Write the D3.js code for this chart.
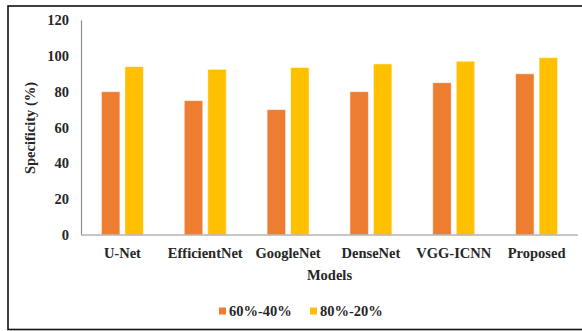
<!DOCTYPE html>
<html>
<head>
<meta charset="utf-8">
<script src="https://cdn.jsdelivr.net/npm/d3@7"></script>
<style>
  html, body { margin: 0; padding: 0; background: #fff; }
  svg { display: block; }
  text { font-family: "Liberation Serif", "Times New Roman", serif; font-weight: bold; fill: #262626; }
</style>
</head>
<body>
<svg id="chart" width="582" height="331"></svg>
<script>
// Specificity (%) per model for two train/test splits
const models = ["U-Net", "EfficientNet", "GoogleNet", "DenseNet", "VGG-ICNN", "Proposed"];
const seriesNames = ["60%-40%", "80%-20%"];
const split6040 = [80, 75, 70, 80, 85, 90];
const split8020 = [94, 92.5, 93.5, 95.5, 97, 99];
const yTicks = [0, 20, 40, 60, 80, 100, 120];
const colors = ["#ED7D31", "#FFC000"];

const seriesValues = [split6040, split8020];

const svg = d3.select("#chart");

// outer frame
svg.append("rect")
  .attr("x", 8).attr("y", 6)
  .attr("width", 590).attr("height", 323.5)
  .attr("fill", "none").attr("stroke", "#111").attr("stroke-width", 1.6);

const plot = { left: 81, right: 578, top: 20, bottom: 235 };

const x = d3.scaleBand()
  .domain(models)
  .range([plot.left, plot.right])
  .paddingInner(0.493)
  .paddingOuter(0.2465);

const xInner = d3.scaleBand()
  .domain(seriesNames)
  .range([0, x.bandwidth()])
  .paddingInner(0.212);

const y = d3.scaleLinear()
  .domain([0, 120])
  .range([plot.bottom, plot.top]);

// bars
const groups = svg.append("g").selectAll("g")
  .data(models)
  .join("g")
  .attr("transform", d => `translate(${x(d)},0)`);

groups.selectAll("rect")
  .data((m, i) => seriesNames.map((s, k) => ({ s, k, v: seriesValues[k][i] })))
  .join("rect")
  .attr("x", d => xInner(d.s))
  .attr("width", xInner.bandwidth())
  .attr("y", d => y(d.v))
  .attr("height", d => y(0) - y(d.v))
  .attr("fill", d => colors[d.k])
  .attr("stroke", "rgba(255,255,255,0.55)")
  .attr("stroke-width", 1);

// y axis
const yAxis = d3.axisLeft(y).tickValues(yTicks).tickSize(0).tickPadding(12);
const gy = svg.append("g")
  .attr("transform", `translate(${plot.left},0)`)
  .call(yAxis);
gy.select(".domain").attr("stroke", "#8c8c8c").attr("stroke-width", 1.2);
gy.selectAll("text")
  .style("font-size", "14.5px")
  .style("font-family", "'Liberation Serif', serif")
  .style("font-weight", "bold")
  .attr("fill", "#262626");

// x axis
const xAxis = d3.axisBottom(x).tickSize(0).tickPadding(13);
const gx = svg.append("g")
  .attr("transform", `translate(0,${plot.bottom})`)
  .call(xAxis);
gx.select(".domain").attr("stroke", "#b3b3b3").attr("stroke-width", 1.5)
  .attr("d", `M${plot.left},0H${plot.right}`);
gx.selectAll("text")
  .style("font-size", "14.5px")
  .style("font-family", "'Liberation Serif', serif")
  .style("font-weight", "bold")
  .attr("fill", "#262626");

// axis titles
svg.append("text")
  .attr("x", (plot.left + plot.right) / 2)
  .attr("y", 280)
  .attr("text-anchor", "middle")
  .style("font-size", "14.5px")
  .text("Models");

svg.append("text")
  .attr("transform", "translate(35,128) rotate(-90)")
  .attr("text-anchor", "middle")
  .style("font-size", "14.5px")
  .text("Specificity (%)");

// legend
const legend = svg.append("g").attr("transform", "translate(219,311)");
const legendX = [0, 91];
seriesNames.forEach((name, k) => {
  const g = legend.append("g").attr("transform", `translate(${legendX[k]},0)`);
  g.append("rect")
    .attr("x", 0).attr("y", -3.5)
    .attr("width", 7).attr("height", 7)
    .attr("fill", colors[k]);
  g.append("text")
    .attr("x", 10).attr("y", 5)
    .style("font-size", "14.5px")
    .text(name);
});
</script>
</body>
</html>
